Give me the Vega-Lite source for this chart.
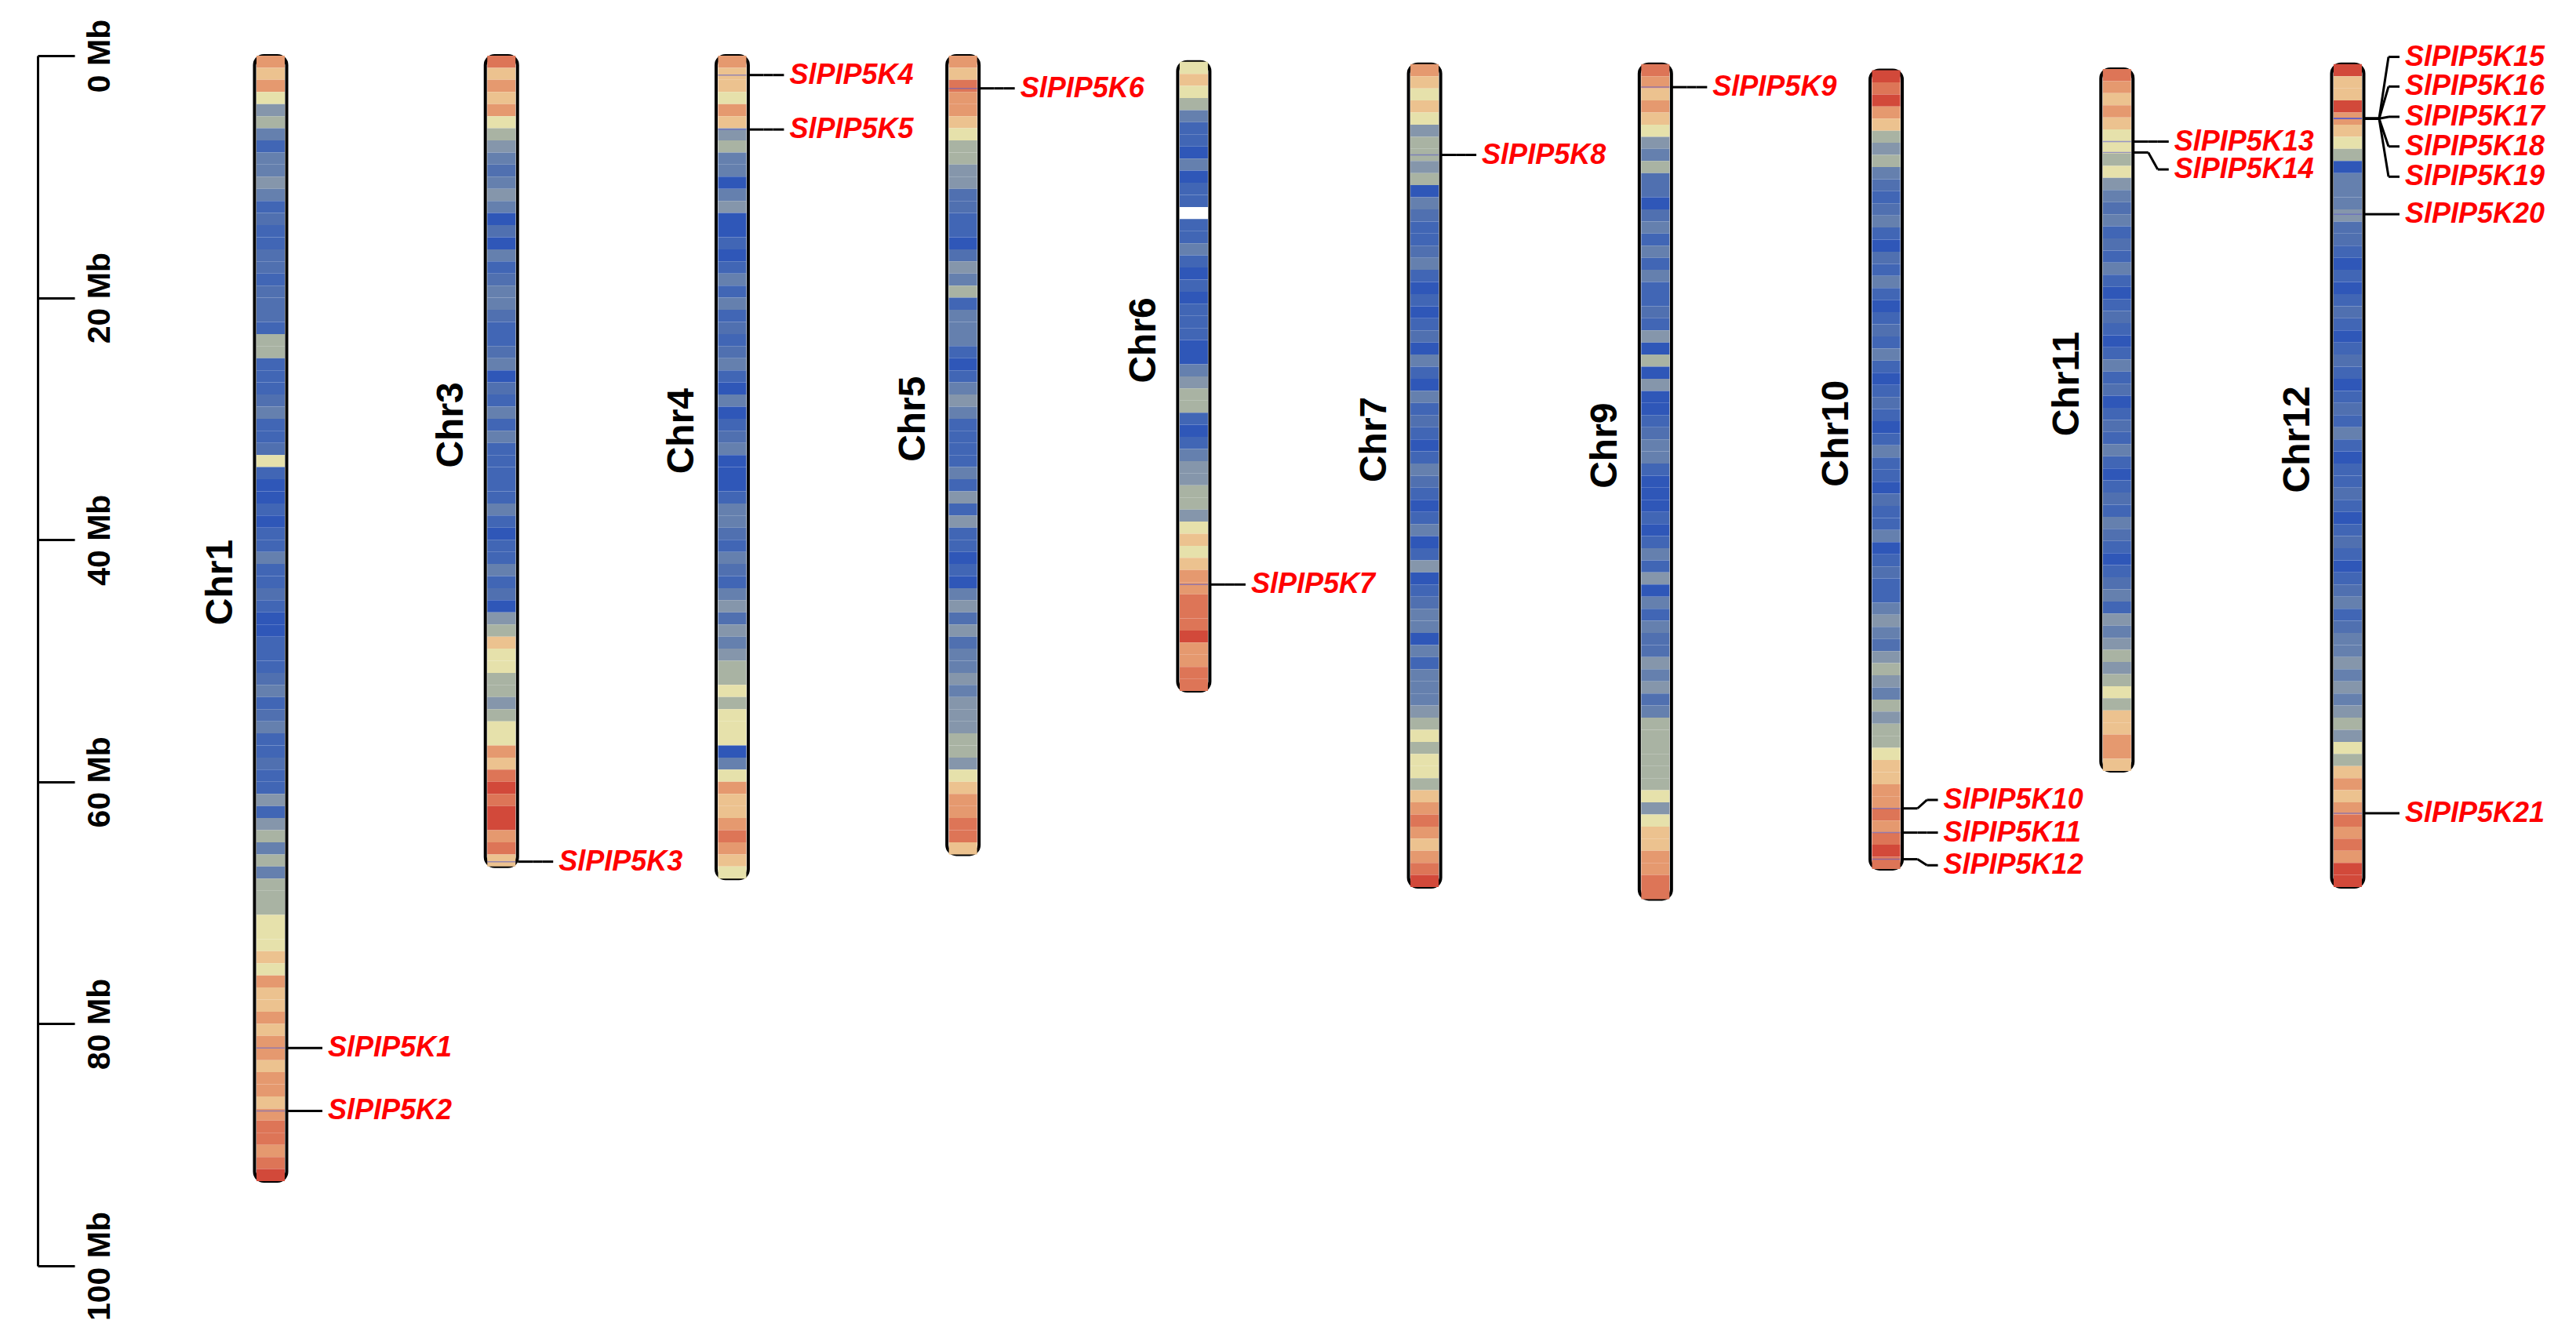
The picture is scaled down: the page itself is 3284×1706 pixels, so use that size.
{
"$schema":"https://vega.github.io/schema/vega-lite/v6.json",
"width":3226,"height":1543,
"autosize":{"type":"none"},
"padding":{"left":48,"top":71,"right":10,"bottom":92},
"background":"white",
"config":{"view":{"stroke":null},"font":"Liberation Sans"},
"datasets":{
"chroms":[
{"c":"Chr1","s":0,"e":93},{"c":"Chr3","s":0,"e":67},{"c":"Chr4","s":0,"e":68},{"c":"Chr5","s":0,"e":66},{"c":"Chr6","s":0.5,"e":52.5},
{"c":"Chr7","s":0.7,"e":68.7},{"c":"Chr9","s":0.7,"e":69.7},{"c":"Chr10","s":1.2,"e":67.2},{"c":"Chr11","s":1.1,"e":59.1},{"c":"Chr12","s":0.7,"e":68.7}
],
"genes":[
{"c":"Chr1","g":"SlPIP5K1","p":82.0,"l":82.0},
{"c":"Chr1","g":"SlPIP5K2","p":87.2,"l":87.2},
{"c":"Chr3","g":"SlPIP5K3","p":66.6,"l":66.6},
{"c":"Chr4","g":"SlPIP5K4","p":1.6,"l":1.6},
{"c":"Chr4","g":"SlPIP5K5","p":6.1,"l":6.1},
{"c":"Chr5","g":"SlPIP5K6","p":2.7,"l":2.7},
{"c":"Chr6","g":"SlPIP5K7","p":43.7,"l":43.7},
{"c":"Chr7","g":"SlPIP5K8","p":8.2,"l":8.2},
{"c":"Chr9","g":"SlPIP5K9","p":2.6,"l":2.6},
{"c":"Chr10","g":"SlPIP5K10","p":62.2,"l":61.5},
{"c":"Chr10","g":"SlPIP5K11","p":64.2,"l":64.2},
{"c":"Chr10","g":"SlPIP5K12","p":66.4,"l":66.9},
{"c":"Chr11","g":"SlPIP5K13","p":7.1,"l":7.1},
{"c":"Chr11","g":"SlPIP5K14","p":8.0,"l":9.4},
{"c":"Chr12","g":"SlPIP5K15","p":5.2,"l":0.1},
{"c":"Chr12","g":"SlPIP5K16","p":5.2,"l":2.55},
{"c":"Chr12","g":"SlPIP5K17","p":5.2,"l":5.05},
{"c":"Chr12","g":"SlPIP5K18","p":5.2,"l":7.5},
{"c":"Chr12","g":"SlPIP5K19","p":5.2,"l":10.0},
{"c":"Chr12","g":"SlPIP5K20","p":13.1,"l":13.1},
{"c":"Chr12","g":"SlPIP5K21","p":62.6,"l":62.6}
],
"bands":[
{"c":"Chr1","s":0,"e":1,"d":9},{"c":"Chr1","s":1,"e":2,"d":8},{"c":"Chr1","s":2,"e":3,"d":9},{"c":"Chr1","s":3,"e":4,"d":7},{"c":"Chr1","s":4,"e":5,"d":5},{"c":"Chr1","s":5,"e":6,"d":6},{"c":"Chr1","s":6,"e":7,"d":4},{"c":"Chr1","s":7,"e":8,"d":2},{"c":"Chr1","s":8,"e":9,"d":4},{"c":"Chr1","s":9,"e":10,"d":4},
{"c":"Chr1","s":10,"e":11,"d":5},{"c":"Chr1","s":11,"e":12,"d":4},{"c":"Chr1","s":12,"e":13,"d":2},{"c":"Chr1","s":13,"e":14,"d":3},{"c":"Chr1","s":14,"e":15,"d":2},{"c":"Chr1","s":15,"e":16,"d":2},{"c":"Chr1","s":16,"e":17,"d":3},{"c":"Chr1","s":17,"e":18,"d":3},{"c":"Chr1","s":18,"e":19,"d":2},{"c":"Chr1","s":19,"e":20,"d":3},
{"c":"Chr1","s":20,"e":21,"d":3},{"c":"Chr1","s":21,"e":22,"d":3},{"c":"Chr1","s":22,"e":23,"d":2},{"c":"Chr1","s":23,"e":24,"d":6},{"c":"Chr1","s":24,"e":25,"d":6},{"c":"Chr1","s":25,"e":26,"d":2},{"c":"Chr1","s":26,"e":27,"d":2},{"c":"Chr1","s":27,"e":28,"d":2},{"c":"Chr1","s":28,"e":29,"d":3},{"c":"Chr1","s":29,"e":30,"d":4},
{"c":"Chr1","s":30,"e":31,"d":2},{"c":"Chr1","s":31,"e":32,"d":2},{"c":"Chr1","s":32,"e":33,"d":3},{"c":"Chr1","s":33,"e":34,"d":7},{"c":"Chr1","s":34,"e":35,"d":2},{"c":"Chr1","s":35,"e":36,"d":1},{"c":"Chr1","s":36,"e":37,"d":1},{"c":"Chr1","s":37,"e":38,"d":2},{"c":"Chr1","s":38,"e":39,"d":1},{"c":"Chr1","s":39,"e":40,"d":2},
{"c":"Chr1","s":40,"e":41,"d":2},{"c":"Chr1","s":41,"e":42,"d":4},{"c":"Chr1","s":42,"e":43,"d":2},{"c":"Chr1","s":43,"e":44,"d":2},{"c":"Chr1","s":44,"e":45,"d":3},{"c":"Chr1","s":45,"e":46,"d":2},{"c":"Chr1","s":46,"e":47,"d":1},{"c":"Chr1","s":47,"e":48,"d":1},{"c":"Chr1","s":48,"e":49,"d":2},{"c":"Chr1","s":49,"e":50,"d":2},
{"c":"Chr1","s":50,"e":51,"d":2},{"c":"Chr1","s":51,"e":52,"d":3},{"c":"Chr1","s":52,"e":53,"d":4},{"c":"Chr1","s":53,"e":54,"d":2},{"c":"Chr1","s":54,"e":55,"d":3},{"c":"Chr1","s":55,"e":56,"d":4},{"c":"Chr1","s":56,"e":57,"d":2},{"c":"Chr1","s":57,"e":58,"d":2},{"c":"Chr1","s":58,"e":59,"d":3},{"c":"Chr1","s":59,"e":60,"d":2},
{"c":"Chr1","s":60,"e":61,"d":2},{"c":"Chr1","s":61,"e":62,"d":5},{"c":"Chr1","s":62,"e":63,"d":2},{"c":"Chr1","s":63,"e":64,"d":5},{"c":"Chr1","s":64,"e":65,"d":6},{"c":"Chr1","s":65,"e":66,"d":4},{"c":"Chr1","s":66,"e":67,"d":6},{"c":"Chr1","s":67,"e":68,"d":4},{"c":"Chr1","s":68,"e":69,"d":6},{"c":"Chr1","s":69,"e":70,"d":6},
{"c":"Chr1","s":70,"e":71,"d":6},{"c":"Chr1","s":71,"e":72,"d":7},{"c":"Chr1","s":72,"e":73,"d":7},{"c":"Chr1","s":73,"e":74,"d":7},{"c":"Chr1","s":74,"e":75,"d":8},{"c":"Chr1","s":75,"e":76,"d":7},{"c":"Chr1","s":76,"e":77,"d":9},{"c":"Chr1","s":77,"e":78,"d":8},{"c":"Chr1","s":78,"e":79,"d":8},{"c":"Chr1","s":79,"e":80,"d":9},
{"c":"Chr1","s":80,"e":81,"d":8},{"c":"Chr1","s":81,"e":82,"d":9},{"c":"Chr1","s":82,"e":83,"d":9},{"c":"Chr1","s":83,"e":84,"d":8},{"c":"Chr1","s":84,"e":85,"d":9},{"c":"Chr1","s":85,"e":86,"d":9},{"c":"Chr1","s":86,"e":87,"d":8},{"c":"Chr1","s":87,"e":88,"d":9},{"c":"Chr1","s":88,"e":89,"d":10},{"c":"Chr1","s":89,"e":90,"d":10},
{"c":"Chr1","s":90,"e":91,"d":9},{"c":"Chr1","s":91,"e":92,"d":10},{"c":"Chr1","s":92,"e":93,"d":11},

{"c":"Chr3","s":0,"e":1,"d":10},{"c":"Chr3","s":1,"e":2,"d":8},{"c":"Chr3","s":2,"e":3,"d":9},{"c":"Chr3","s":3,"e":4,"d":8},{"c":"Chr3","s":4,"e":5,"d":9},{"c":"Chr3","s":5,"e":6,"d":7},{"c":"Chr3","s":6,"e":7,"d":6},{"c":"Chr3","s":7,"e":8,"d":5},{"c":"Chr3","s":8,"e":9,"d":4},{"c":"Chr3","s":9,"e":10,"d":3},
{"c":"Chr3","s":10,"e":11,"d":4},{"c":"Chr3","s":11,"e":12,"d":5},{"c":"Chr3","s":12,"e":13,"d":4},{"c":"Chr3","s":13,"e":14,"d":1},{"c":"Chr3","s":14,"e":15,"d":3},{"c":"Chr3","s":15,"e":16,"d":1},{"c":"Chr3","s":16,"e":17,"d":4},{"c":"Chr3","s":17,"e":18,"d":2},{"c":"Chr3","s":18,"e":19,"d":3},{"c":"Chr3","s":19,"e":20,"d":4},
{"c":"Chr3","s":20,"e":21,"d":4},{"c":"Chr3","s":21,"e":22,"d":3},{"c":"Chr3","s":22,"e":23,"d":2},{"c":"Chr3","s":23,"e":24,"d":2},{"c":"Chr3","s":24,"e":25,"d":3},{"c":"Chr3","s":25,"e":26,"d":4},{"c":"Chr3","s":26,"e":27,"d":1},{"c":"Chr3","s":27,"e":28,"d":3},{"c":"Chr3","s":28,"e":29,"d":2},{"c":"Chr3","s":29,"e":30,"d":4},
{"c":"Chr3","s":30,"e":31,"d":2},{"c":"Chr3","s":31,"e":32,"d":4},{"c":"Chr3","s":32,"e":33,"d":2},{"c":"Chr3","s":33,"e":34,"d":2},{"c":"Chr3","s":34,"e":35,"d":2},{"c":"Chr3","s":35,"e":36,"d":2},{"c":"Chr3","s":36,"e":37,"d":2},{"c":"Chr3","s":37,"e":38,"d":4},{"c":"Chr3","s":38,"e":39,"d":2},{"c":"Chr3","s":39,"e":40,"d":1},
{"c":"Chr3","s":40,"e":41,"d":2},{"c":"Chr3","s":41,"e":42,"d":2},{"c":"Chr3","s":42,"e":43,"d":4},{"c":"Chr3","s":43,"e":44,"d":2},{"c":"Chr3","s":44,"e":45,"d":3},{"c":"Chr3","s":45,"e":46,"d":1},{"c":"Chr3","s":46,"e":47,"d":5},{"c":"Chr3","s":47,"e":48,"d":6},{"c":"Chr3","s":48,"e":49,"d":8},{"c":"Chr3","s":49,"e":50,"d":7},
{"c":"Chr3","s":50,"e":51,"d":7},{"c":"Chr3","s":51,"e":52,"d":6},{"c":"Chr3","s":52,"e":53,"d":6},{"c":"Chr3","s":53,"e":54,"d":5},{"c":"Chr3","s":54,"e":55,"d":6},{"c":"Chr3","s":55,"e":56,"d":7},{"c":"Chr3","s":56,"e":57,"d":7},{"c":"Chr3","s":57,"e":58,"d":9},{"c":"Chr3","s":58,"e":59,"d":8},{"c":"Chr3","s":59,"e":60,"d":10},
{"c":"Chr3","s":60,"e":61,"d":11},{"c":"Chr3","s":61,"e":62,"d":10},{"c":"Chr3","s":62,"e":63,"d":11},{"c":"Chr3","s":63,"e":64,"d":11},{"c":"Chr3","s":64,"e":65,"d":9},{"c":"Chr3","s":65,"e":66,"d":10},{"c":"Chr3","s":66,"e":67,"d":8},

{"c":"Chr4","s":0,"e":1,"d":9},{"c":"Chr4","s":1,"e":2,"d":8},{"c":"Chr4","s":2,"e":3,"d":8},{"c":"Chr4","s":3,"e":4,"d":7},{"c":"Chr4","s":4,"e":5,"d":9},{"c":"Chr4","s":5,"e":6,"d":8},{"c":"Chr4","s":6,"e":7,"d":5},{"c":"Chr4","s":7,"e":8,"d":6},{"c":"Chr4","s":8,"e":9,"d":4},{"c":"Chr4","s":9,"e":10,"d":4},
{"c":"Chr4","s":10,"e":11,"d":1},{"c":"Chr4","s":11,"e":12,"d":4},{"c":"Chr4","s":12,"e":13,"d":5},{"c":"Chr4","s":13,"e":14,"d":1},{"c":"Chr4","s":14,"e":15,"d":1},{"c":"Chr4","s":15,"e":16,"d":2},{"c":"Chr4","s":16,"e":17,"d":1},{"c":"Chr4","s":17,"e":18,"d":2},{"c":"Chr4","s":18,"e":19,"d":4},{"c":"Chr4","s":19,"e":20,"d":2},
{"c":"Chr4","s":20,"e":21,"d":4},{"c":"Chr4","s":21,"e":22,"d":2},{"c":"Chr4","s":22,"e":23,"d":3},{"c":"Chr4","s":23,"e":24,"d":2},{"c":"Chr4","s":24,"e":25,"d":3},{"c":"Chr4","s":25,"e":26,"d":4},{"c":"Chr4","s":26,"e":27,"d":2},{"c":"Chr4","s":27,"e":28,"d":1},{"c":"Chr4","s":28,"e":29,"d":4},{"c":"Chr4","s":29,"e":30,"d":1},
{"c":"Chr4","s":30,"e":31,"d":2},{"c":"Chr4","s":31,"e":32,"d":3},{"c":"Chr4","s":32,"e":33,"d":4},{"c":"Chr4","s":33,"e":34,"d":1},{"c":"Chr4","s":34,"e":35,"d":1},{"c":"Chr4","s":35,"e":36,"d":1},{"c":"Chr4","s":36,"e":37,"d":2},{"c":"Chr4","s":37,"e":38,"d":4},{"c":"Chr4","s":38,"e":39,"d":4},{"c":"Chr4","s":39,"e":40,"d":3},
{"c":"Chr4","s":40,"e":41,"d":2},{"c":"Chr4","s":41,"e":42,"d":4},{"c":"Chr4","s":42,"e":43,"d":3},{"c":"Chr4","s":43,"e":44,"d":2},{"c":"Chr4","s":44,"e":45,"d":4},{"c":"Chr4","s":45,"e":46,"d":5},{"c":"Chr4","s":46,"e":47,"d":3},{"c":"Chr4","s":47,"e":48,"d":5},{"c":"Chr4","s":48,"e":49,"d":4},{"c":"Chr4","s":49,"e":50,"d":5},
{"c":"Chr4","s":50,"e":51,"d":6},{"c":"Chr4","s":51,"e":52,"d":6},{"c":"Chr4","s":52,"e":53,"d":7},{"c":"Chr4","s":53,"e":54,"d":6},{"c":"Chr4","s":54,"e":55,"d":7},{"c":"Chr4","s":55,"e":56,"d":7},{"c":"Chr4","s":56,"e":57,"d":7},{"c":"Chr4","s":57,"e":58,"d":1},{"c":"Chr4","s":58,"e":59,"d":4},{"c":"Chr4","s":59,"e":60,"d":7},
{"c":"Chr4","s":60,"e":61,"d":9},{"c":"Chr4","s":61,"e":62,"d":8},{"c":"Chr4","s":62,"e":63,"d":8},{"c":"Chr4","s":63,"e":64,"d":9},{"c":"Chr4","s":64,"e":65,"d":10},{"c":"Chr4","s":65,"e":66,"d":9},{"c":"Chr4","s":66,"e":67,"d":8},{"c":"Chr4","s":67,"e":68,"d":7},

{"c":"Chr5","s":0,"e":1,"d":9},{"c":"Chr5","s":1,"e":2,"d":8},{"c":"Chr5","s":2,"e":3,"d":10},{"c":"Chr5","s":3,"e":4,"d":9},{"c":"Chr5","s":4,"e":5,"d":9},{"c":"Chr5","s":5,"e":6,"d":8},{"c":"Chr5","s":6,"e":7,"d":7},{"c":"Chr5","s":7,"e":8,"d":6},{"c":"Chr5","s":8,"e":9,"d":6},{"c":"Chr5","s":9,"e":10,"d":5},
{"c":"Chr5","s":10,"e":11,"d":5},{"c":"Chr5","s":11,"e":12,"d":3},{"c":"Chr5","s":12,"e":13,"d":3},{"c":"Chr5","s":13,"e":14,"d":2},{"c":"Chr5","s":14,"e":15,"d":2},{"c":"Chr5","s":15,"e":16,"d":1},{"c":"Chr5","s":16,"e":17,"d":3},{"c":"Chr5","s":17,"e":18,"d":5},{"c":"Chr5","s":18,"e":19,"d":4},{"c":"Chr5","s":19,"e":20,"d":6},
{"c":"Chr5","s":20,"e":21,"d":2},{"c":"Chr5","s":21,"e":22,"d":4},{"c":"Chr5","s":22,"e":23,"d":4},{"c":"Chr5","s":23,"e":24,"d":4},{"c":"Chr5","s":24,"e":25,"d":2},{"c":"Chr5","s":25,"e":26,"d":1},{"c":"Chr5","s":26,"e":27,"d":2},{"c":"Chr5","s":27,"e":28,"d":4},{"c":"Chr5","s":28,"e":29,"d":5},{"c":"Chr5","s":29,"e":30,"d":4},
{"c":"Chr5","s":30,"e":31,"d":2},{"c":"Chr5","s":31,"e":32,"d":2},{"c":"Chr5","s":32,"e":33,"d":2},{"c":"Chr5","s":33,"e":34,"d":2},{"c":"Chr5","s":34,"e":35,"d":4},{"c":"Chr5","s":35,"e":36,"d":2},{"c":"Chr5","s":36,"e":37,"d":5},{"c":"Chr5","s":37,"e":38,"d":2},{"c":"Chr5","s":38,"e":39,"d":5},{"c":"Chr5","s":39,"e":40,"d":2},
{"c":"Chr5","s":40,"e":41,"d":2},{"c":"Chr5","s":41,"e":42,"d":1},{"c":"Chr5","s":42,"e":43,"d":2},{"c":"Chr5","s":43,"e":44,"d":1},{"c":"Chr5","s":44,"e":45,"d":4},{"c":"Chr5","s":45,"e":46,"d":5},{"c":"Chr5","s":46,"e":47,"d":3},{"c":"Chr5","s":47,"e":48,"d":5},{"c":"Chr5","s":48,"e":49,"d":3},{"c":"Chr5","s":49,"e":50,"d":4},
{"c":"Chr5","s":50,"e":51,"d":4},{"c":"Chr5","s":51,"e":52,"d":5},{"c":"Chr5","s":52,"e":53,"d":4},{"c":"Chr5","s":53,"e":54,"d":5},{"c":"Chr5","s":54,"e":55,"d":5},{"c":"Chr5","s":55,"e":56,"d":5},{"c":"Chr5","s":56,"e":57,"d":6},{"c":"Chr5","s":57,"e":58,"d":6},{"c":"Chr5","s":58,"e":59,"d":5},{"c":"Chr5","s":59,"e":60,"d":7},
{"c":"Chr5","s":60,"e":61,"d":8},{"c":"Chr5","s":61,"e":62,"d":9},{"c":"Chr5","s":62,"e":63,"d":9},{"c":"Chr5","s":63,"e":64,"d":10},{"c":"Chr5","s":64,"e":65,"d":10},{"c":"Chr5","s":65,"e":66,"d":8},

{"c":"Chr6","s":0.5,"e":1.5,"d":7},{"c":"Chr6","s":1.5,"e":2.5,"d":8},{"c":"Chr6","s":2.5,"e":3.5,"d":7},{"c":"Chr6","s":3.5,"e":4.5,"d":6},{"c":"Chr6","s":4.5,"e":5.5,"d":4},{"c":"Chr6","s":5.5,"e":6.5,"d":2},{"c":"Chr6","s":6.5,"e":7.5,"d":2},{"c":"Chr6","s":7.5,"e":8.5,"d":1},{"c":"Chr6","s":8.5,"e":9.5,"d":4},{"c":"Chr6","s":9.5,"e":10.5,"d":1},
{"c":"Chr6","s":10.5,"e":11.5,"d":2},{"c":"Chr6","s":11.5,"e":12.5,"d":2},{"c":"Chr6","s":13.5,"e":14.5,"d":2},{"c":"Chr6","s":14.5,"e":15.5,"d":2},{"c":"Chr6","s":15.5,"e":16.5,"d":4},{"c":"Chr6","s":16.5,"e":17.5,"d":2},{"c":"Chr6","s":17.5,"e":18.5,"d":1},{"c":"Chr6","s":18.5,"e":19.5,"d":2},{"c":"Chr6","s":19.5,"e":20.5,"d":1},
{"c":"Chr6","s":20.5,"e":21.5,"d":2},{"c":"Chr6","s":21.5,"e":22.5,"d":2},{"c":"Chr6","s":22.5,"e":23.5,"d":2},{"c":"Chr6","s":23.5,"e":24.5,"d":1},{"c":"Chr6","s":24.5,"e":25.5,"d":1},{"c":"Chr6","s":25.5,"e":26.5,"d":4},{"c":"Chr6","s":26.5,"e":27.5,"d":5},{"c":"Chr6","s":27.5,"e":28.5,"d":6},{"c":"Chr6","s":28.5,"e":29.5,"d":6},{"c":"Chr6","s":29.5,"e":30.5,"d":2},
{"c":"Chr6","s":30.5,"e":31.5,"d":1},{"c":"Chr6","s":31.5,"e":32.5,"d":2},{"c":"Chr6","s":32.5,"e":33.5,"d":4},{"c":"Chr6","s":33.5,"e":34.5,"d":5},{"c":"Chr6","s":34.5,"e":35.5,"d":5},{"c":"Chr6","s":35.5,"e":36.5,"d":6},{"c":"Chr6","s":36.5,"e":37.5,"d":6},{"c":"Chr6","s":37.5,"e":38.5,"d":5},{"c":"Chr6","s":38.5,"e":39.5,"d":7},{"c":"Chr6","s":39.5,"e":40.5,"d":8},
{"c":"Chr6","s":40.5,"e":41.5,"d":7},{"c":"Chr6","s":41.5,"e":42.5,"d":8},{"c":"Chr6","s":42.5,"e":43.5,"d":9},{"c":"Chr6","s":43.5,"e":44.5,"d":9},{"c":"Chr6","s":44.5,"e":45.5,"d":10},{"c":"Chr6","s":45.5,"e":46.5,"d":10},{"c":"Chr6","s":46.5,"e":47.5,"d":10},{"c":"Chr6","s":47.5,"e":48.5,"d":11},{"c":"Chr6","s":48.5,"e":49.5,"d":9},{"c":"Chr6","s":49.5,"e":50.5,"d":9},
{"c":"Chr6","s":50.5,"e":51.5,"d":10},{"c":"Chr6","s":51.5,"e":52.5,"d":10},

{"c":"Chr7","s":0.7,"e":1.7,"d":9},{"c":"Chr7","s":1.7,"e":2.7,"d":8},{"c":"Chr7","s":2.7,"e":3.7,"d":7},{"c":"Chr7","s":3.7,"e":4.7,"d":8},{"c":"Chr7","s":4.7,"e":5.7,"d":7},{"c":"Chr7","s":5.7,"e":6.7,"d":5},{"c":"Chr7","s":6.7,"e":7.7,"d":6},{"c":"Chr7","s":7.7,"e":8.7,"d":6},{"c":"Chr7","s":8.7,"e":9.7,"d":5},{"c":"Chr7","s":9.7,"e":10.7,"d":6},
{"c":"Chr7","s":10.7,"e":11.7,"d":1},{"c":"Chr7","s":11.7,"e":12.7,"d":4},{"c":"Chr7","s":12.7,"e":13.7,"d":3},{"c":"Chr7","s":13.7,"e":14.7,"d":2},{"c":"Chr7","s":14.7,"e":15.7,"d":2},{"c":"Chr7","s":15.7,"e":16.7,"d":3},{"c":"Chr7","s":16.7,"e":17.7,"d":4},{"c":"Chr7","s":17.7,"e":18.7,"d":2},{"c":"Chr7","s":18.7,"e":19.7,"d":1},{"c":"Chr7","s":19.7,"e":20.7,"d":2},
{"c":"Chr7","s":20.7,"e":21.7,"d":1},{"c":"Chr7","s":21.7,"e":22.7,"d":2},{"c":"Chr7","s":22.7,"e":23.7,"d":3},{"c":"Chr7","s":23.7,"e":24.7,"d":1},{"c":"Chr7","s":24.7,"e":25.7,"d":4},{"c":"Chr7","s":25.7,"e":26.7,"d":2},{"c":"Chr7","s":26.7,"e":27.7,"d":1},{"c":"Chr7","s":27.7,"e":28.7,"d":4},{"c":"Chr7","s":28.7,"e":29.7,"d":2},{"c":"Chr7","s":29.7,"e":30.7,"d":3},
{"c":"Chr7","s":30.7,"e":31.7,"d":2},{"c":"Chr7","s":31.7,"e":32.7,"d":1},{"c":"Chr7","s":32.7,"e":33.7,"d":2},{"c":"Chr7","s":33.7,"e":34.7,"d":4},{"c":"Chr7","s":34.7,"e":35.7,"d":3},{"c":"Chr7","s":35.7,"e":36.7,"d":2},{"c":"Chr7","s":36.7,"e":37.7,"d":1},{"c":"Chr7","s":37.7,"e":38.7,"d":2},{"c":"Chr7","s":38.7,"e":39.7,"d":4},{"c":"Chr7","s":39.7,"e":40.7,"d":1},
{"c":"Chr7","s":40.7,"e":41.7,"d":2},{"c":"Chr7","s":41.7,"e":42.7,"d":5},{"c":"Chr7","s":42.7,"e":43.7,"d":1},{"c":"Chr7","s":43.7,"e":44.7,"d":2},{"c":"Chr7","s":44.7,"e":45.7,"d":3},{"c":"Chr7","s":45.7,"e":46.7,"d":4},{"c":"Chr7","s":46.7,"e":47.7,"d":4},{"c":"Chr7","s":47.7,"e":48.7,"d":1},{"c":"Chr7","s":48.7,"e":49.7,"d":4},{"c":"Chr7","s":49.7,"e":50.7,"d":2},
{"c":"Chr7","s":50.7,"e":51.7,"d":4},{"c":"Chr7","s":51.7,"e":52.7,"d":4},{"c":"Chr7","s":52.7,"e":53.7,"d":4},{"c":"Chr7","s":53.7,"e":54.7,"d":5},{"c":"Chr7","s":54.7,"e":55.7,"d":6},{"c":"Chr7","s":55.7,"e":56.7,"d":7},{"c":"Chr7","s":56.7,"e":57.7,"d":6},{"c":"Chr7","s":57.7,"e":58.7,"d":7},{"c":"Chr7","s":58.7,"e":59.7,"d":7},{"c":"Chr7","s":59.7,"e":60.7,"d":6},
{"c":"Chr7","s":60.7,"e":61.7,"d":8},{"c":"Chr7","s":61.7,"e":62.7,"d":9},{"c":"Chr7","s":62.7,"e":63.7,"d":10},{"c":"Chr7","s":63.7,"e":64.7,"d":9},{"c":"Chr7","s":64.7,"e":65.7,"d":8},{"c":"Chr7","s":65.7,"e":66.7,"d":9},{"c":"Chr7","s":66.7,"e":67.7,"d":10},{"c":"Chr7","s":67.7,"e":68.7,"d":11},

{"c":"Chr9","s":0.7,"e":1.7,"d":10},{"c":"Chr9","s":1.7,"e":2.7,"d":9},{"c":"Chr9","s":2.7,"e":3.7,"d":8},{"c":"Chr9","s":3.7,"e":4.7,"d":9},{"c":"Chr9","s":4.7,"e":5.7,"d":8},{"c":"Chr9","s":5.7,"e":6.7,"d":7},{"c":"Chr9","s":6.7,"e":7.7,"d":5},{"c":"Chr9","s":7.7,"e":8.7,"d":4},{"c":"Chr9","s":8.7,"e":9.7,"d":6},{"c":"Chr9","s":9.7,"e":10.7,"d":3},
{"c":"Chr9","s":10.7,"e":11.7,"d":3},{"c":"Chr9","s":11.7,"e":12.7,"d":1},{"c":"Chr9","s":12.7,"e":13.7,"d":3},{"c":"Chr9","s":13.7,"e":14.7,"d":4},{"c":"Chr9","s":14.7,"e":15.7,"d":2},{"c":"Chr9","s":15.7,"e":16.7,"d":4},{"c":"Chr9","s":16.7,"e":17.7,"d":2},{"c":"Chr9","s":17.7,"e":18.7,"d":4},{"c":"Chr9","s":18.7,"e":19.7,"d":2},{"c":"Chr9","s":19.7,"e":20.7,"d":2},
{"c":"Chr9","s":20.7,"e":21.7,"d":3},{"c":"Chr9","s":21.7,"e":22.7,"d":2},{"c":"Chr9","s":22.7,"e":23.7,"d":5},{"c":"Chr9","s":23.7,"e":24.7,"d":1},{"c":"Chr9","s":24.7,"e":25.7,"d":6},{"c":"Chr9","s":25.7,"e":26.7,"d":1},{"c":"Chr9","s":26.7,"e":27.7,"d":5},{"c":"Chr9","s":27.7,"e":28.7,"d":1},{"c":"Chr9","s":28.7,"e":29.7,"d":1},{"c":"Chr9","s":29.7,"e":30.7,"d":2},
{"c":"Chr9","s":30.7,"e":31.7,"d":3},{"c":"Chr9","s":31.7,"e":32.7,"d":4},{"c":"Chr9","s":32.7,"e":33.7,"d":4},{"c":"Chr9","s":33.7,"e":34.7,"d":2},{"c":"Chr9","s":34.7,"e":35.7,"d":1},{"c":"Chr9","s":35.7,"e":36.7,"d":1},{"c":"Chr9","s":36.7,"e":37.7,"d":1},{"c":"Chr9","s":37.7,"e":38.7,"d":2},{"c":"Chr9","s":38.7,"e":39.7,"d":1},{"c":"Chr9","s":39.7,"e":40.7,"d":2},
{"c":"Chr9","s":40.7,"e":41.7,"d":4},{"c":"Chr9","s":41.7,"e":42.7,"d":2},{"c":"Chr9","s":42.7,"e":43.7,"d":5},{"c":"Chr9","s":43.7,"e":44.7,"d":1},{"c":"Chr9","s":44.7,"e":45.7,"d":4},{"c":"Chr9","s":45.7,"e":46.7,"d":2},{"c":"Chr9","s":46.7,"e":47.7,"d":4},{"c":"Chr9","s":47.7,"e":48.7,"d":3},{"c":"Chr9","s":48.7,"e":49.7,"d":3},{"c":"Chr9","s":49.7,"e":50.7,"d":5},
{"c":"Chr9","s":50.7,"e":51.7,"d":4},{"c":"Chr9","s":51.7,"e":52.7,"d":5},{"c":"Chr9","s":52.7,"e":53.7,"d":3},{"c":"Chr9","s":53.7,"e":54.7,"d":4},{"c":"Chr9","s":54.7,"e":55.7,"d":6},{"c":"Chr9","s":55.7,"e":56.7,"d":6},{"c":"Chr9","s":56.7,"e":57.7,"d":6},{"c":"Chr9","s":57.7,"e":58.7,"d":6},{"c":"Chr9","s":58.7,"e":59.7,"d":6},{"c":"Chr9","s":59.7,"e":60.7,"d":6},
{"c":"Chr9","s":60.7,"e":61.7,"d":7},{"c":"Chr9","s":61.7,"e":62.7,"d":5},{"c":"Chr9","s":62.7,"e":63.7,"d":7},{"c":"Chr9","s":63.7,"e":64.7,"d":8},{"c":"Chr9","s":64.7,"e":65.7,"d":8},{"c":"Chr9","s":65.7,"e":66.7,"d":9},{"c":"Chr9","s":66.7,"e":67.7,"d":9},{"c":"Chr9","s":67.7,"e":68.7,"d":10},{"c":"Chr9","s":68.7,"e":69.7,"d":10},

{"c":"Chr10","s":1.2,"e":2.2,"d":11},{"c":"Chr10","s":2.2,"e":3.2,"d":10},{"c":"Chr10","s":3.2,"e":4.2,"d":11},{"c":"Chr10","s":4.2,"e":5.2,"d":9},{"c":"Chr10","s":5.2,"e":6.2,"d":8},{"c":"Chr10","s":6.2,"e":7.2,"d":6},{"c":"Chr10","s":7.2,"e":8.2,"d":5},{"c":"Chr10","s":8.2,"e":9.2,"d":6},{"c":"Chr10","s":9.2,"e":10.2,"d":4},{"c":"Chr10","s":10.2,"e":11.2,"d":3},
{"c":"Chr10","s":11.2,"e":12.2,"d":2},{"c":"Chr10","s":12.2,"e":13.2,"d":3},{"c":"Chr10","s":13.2,"e":14.2,"d":4},{"c":"Chr10","s":14.2,"e":15.2,"d":2},{"c":"Chr10","s":15.2,"e":16.2,"d":1},{"c":"Chr10","s":16.2,"e":17.2,"d":3},{"c":"Chr10","s":17.2,"e":18.2,"d":2},{"c":"Chr10","s":18.2,"e":19.2,"d":4},{"c":"Chr10","s":19.2,"e":20.2,"d":2},{"c":"Chr10","s":20.2,"e":21.2,"d":1},
{"c":"Chr10","s":21.2,"e":22.2,"d":2},{"c":"Chr10","s":22.2,"e":23.2,"d":3},{"c":"Chr10","s":23.2,"e":24.2,"d":2},{"c":"Chr10","s":24.2,"e":25.2,"d":4},{"c":"Chr10","s":25.2,"e":26.2,"d":2},{"c":"Chr10","s":26.2,"e":27.2,"d":1},{"c":"Chr10","s":27.2,"e":28.2,"d":2},{"c":"Chr10","s":28.2,"e":29.2,"d":3},{"c":"Chr10","s":29.2,"e":30.2,"d":2},{"c":"Chr10","s":30.2,"e":31.2,"d":1},
{"c":"Chr10","s":31.2,"e":32.2,"d":2},{"c":"Chr10","s":32.2,"e":33.2,"d":4},{"c":"Chr10","s":33.2,"e":34.2,"d":2},{"c":"Chr10","s":34.2,"e":35.2,"d":2},{"c":"Chr10","s":35.2,"e":36.2,"d":1},{"c":"Chr10","s":36.2,"e":37.2,"d":3},{"c":"Chr10","s":37.2,"e":38.2,"d":2},{"c":"Chr10","s":38.2,"e":39.2,"d":2},{"c":"Chr10","s":39.2,"e":40.2,"d":4},{"c":"Chr10","s":40.2,"e":41.2,"d":1},
{"c":"Chr10","s":41.2,"e":42.2,"d":2},{"c":"Chr10","s":42.2,"e":43.2,"d":3},{"c":"Chr10","s":43.2,"e":44.2,"d":2},{"c":"Chr10","s":44.2,"e":45.2,"d":2},{"c":"Chr10","s":45.2,"e":46.2,"d":4},{"c":"Chr10","s":46.2,"e":47.2,"d":5},{"c":"Chr10","s":47.2,"e":48.2,"d":4},{"c":"Chr10","s":48.2,"e":49.2,"d":3},{"c":"Chr10","s":49.2,"e":50.2,"d":5},{"c":"Chr10","s":50.2,"e":51.2,"d":6},
{"c":"Chr10","s":51.2,"e":52.2,"d":5},{"c":"Chr10","s":52.2,"e":53.2,"d":4},{"c":"Chr10","s":53.2,"e":54.2,"d":6},{"c":"Chr10","s":54.2,"e":55.2,"d":5},{"c":"Chr10","s":55.2,"e":56.2,"d":6},{"c":"Chr10","s":56.2,"e":57.2,"d":6},{"c":"Chr10","s":57.2,"e":58.2,"d":7},{"c":"Chr10","s":58.2,"e":59.2,"d":8},{"c":"Chr10","s":59.2,"e":60.2,"d":8},{"c":"Chr10","s":60.2,"e":61.2,"d":9},
{"c":"Chr10","s":61.2,"e":62.2,"d":9},{"c":"Chr10","s":62.2,"e":63.2,"d":10},{"c":"Chr10","s":63.2,"e":64.2,"d":9},{"c":"Chr10","s":64.2,"e":65.2,"d":10},{"c":"Chr10","s":65.2,"e":66.2,"d":11},{"c":"Chr10","s":66.2,"e":67.2,"d":10},

{"c":"Chr11","s":1.1,"e":2.1,"d":10},{"c":"Chr11","s":2.1,"e":3.1,"d":9},{"c":"Chr11","s":3.1,"e":4.1,"d":8},{"c":"Chr11","s":4.1,"e":5.1,"d":9},{"c":"Chr11","s":5.1,"e":6.1,"d":8},{"c":"Chr11","s":6.1,"e":7.1,"d":7},{"c":"Chr11","s":7.1,"e":8.1,"d":7},{"c":"Chr11","s":8.1,"e":9.1,"d":6},{"c":"Chr11","s":9.1,"e":10.1,"d":7},{"c":"Chr11","s":10.1,"e":11.1,"d":5},
{"c":"Chr11","s":11.1,"e":12.1,"d":4},{"c":"Chr11","s":12.1,"e":13.1,"d":3},{"c":"Chr11","s":13.1,"e":14.1,"d":4},{"c":"Chr11","s":14.1,"e":15.1,"d":2},{"c":"Chr11","s":15.1,"e":16.1,"d":3},{"c":"Chr11","s":16.1,"e":17.1,"d":2},{"c":"Chr11","s":17.1,"e":18.1,"d":4},{"c":"Chr11","s":18.1,"e":19.1,"d":2},{"c":"Chr11","s":19.1,"e":20.1,"d":1},{"c":"Chr11","s":20.1,"e":21.1,"d":2},
{"c":"Chr11","s":21.1,"e":22.1,"d":3},{"c":"Chr11","s":22.1,"e":23.1,"d":2},{"c":"Chr11","s":23.1,"e":24.1,"d":1},{"c":"Chr11","s":24.1,"e":25.1,"d":2},{"c":"Chr11","s":25.1,"e":26.1,"d":4},{"c":"Chr11","s":26.1,"e":27.1,"d":2},{"c":"Chr11","s":27.1,"e":28.1,"d":3},{"c":"Chr11","s":28.1,"e":29.1,"d":1},{"c":"Chr11","s":29.1,"e":30.1,"d":2},{"c":"Chr11","s":30.1,"e":31.1,"d":3},
{"c":"Chr11","s":31.1,"e":32.1,"d":2},{"c":"Chr11","s":32.1,"e":33.1,"d":4},{"c":"Chr11","s":33.1,"e":34.1,"d":2},{"c":"Chr11","s":34.1,"e":35.1,"d":1},{"c":"Chr11","s":35.1,"e":36.1,"d":2},{"c":"Chr11","s":36.1,"e":37.1,"d":3},{"c":"Chr11","s":37.1,"e":38.1,"d":2},{"c":"Chr11","s":38.1,"e":39.1,"d":4},{"c":"Chr11","s":39.1,"e":40.1,"d":3},{"c":"Chr11","s":40.1,"e":41.1,"d":2},
{"c":"Chr11","s":41.1,"e":42.1,"d":1},{"c":"Chr11","s":42.1,"e":43.1,"d":2},{"c":"Chr11","s":43.1,"e":44.1,"d":3},{"c":"Chr11","s":44.1,"e":45.1,"d":4},{"c":"Chr11","s":45.1,"e":46.1,"d":2},{"c":"Chr11","s":46.1,"e":47.1,"d":5},{"c":"Chr11","s":47.1,"e":48.1,"d":4},{"c":"Chr11","s":48.1,"e":49.1,"d":5},{"c":"Chr11","s":49.1,"e":50.1,"d":6},{"c":"Chr11","s":50.1,"e":51.1,"d":5},
{"c":"Chr11","s":51.1,"e":52.1,"d":6},{"c":"Chr11","s":52.1,"e":53.1,"d":7},{"c":"Chr11","s":53.1,"e":54.1,"d":6},{"c":"Chr11","s":54.1,"e":55.1,"d":8},{"c":"Chr11","s":55.1,"e":56.1,"d":8},{"c":"Chr11","s":56.1,"e":57.1,"d":9},{"c":"Chr11","s":57.1,"e":58.1,"d":9},{"c":"Chr11","s":58.1,"e":59.1,"d":8},

{"c":"Chr12","s":0.7,"e":1.7,"d":11},{"c":"Chr12","s":1.7,"e":2.7,"d":8},{"c":"Chr12","s":2.7,"e":3.7,"d":8},{"c":"Chr12","s":3.7,"e":4.7,"d":11},{"c":"Chr12","s":4.7,"e":5.7,"d":9},{"c":"Chr12","s":5.7,"e":6.7,"d":8},{"c":"Chr12","s":6.7,"e":7.7,"d":7},{"c":"Chr12","s":7.7,"e":8.7,"d":6},{"c":"Chr12","s":8.7,"e":9.7,"d":1},{"c":"Chr12","s":9.7,"e":10.7,"d":4},
{"c":"Chr12","s":10.7,"e":11.7,"d":4},{"c":"Chr12","s":11.7,"e":12.7,"d":4},{"c":"Chr12","s":12.7,"e":13.7,"d":5},{"c":"Chr12","s":13.7,"e":14.7,"d":3},{"c":"Chr12","s":14.7,"e":15.7,"d":3},{"c":"Chr12","s":15.7,"e":16.7,"d":2},{"c":"Chr12","s":16.7,"e":17.7,"d":1},{"c":"Chr12","s":17.7,"e":18.7,"d":2},{"c":"Chr12","s":18.7,"e":19.7,"d":1},{"c":"Chr12","s":19.7,"e":20.7,"d":2},
{"c":"Chr12","s":20.7,"e":21.7,"d":3},{"c":"Chr12","s":21.7,"e":22.7,"d":2},{"c":"Chr12","s":22.7,"e":23.7,"d":1},{"c":"Chr12","s":23.7,"e":24.7,"d":2},{"c":"Chr12","s":24.7,"e":25.7,"d":3},{"c":"Chr12","s":25.7,"e":26.7,"d":2},{"c":"Chr12","s":26.7,"e":27.7,"d":1},{"c":"Chr12","s":27.7,"e":28.7,"d":2},{"c":"Chr12","s":28.7,"e":29.7,"d":3},{"c":"Chr12","s":29.7,"e":30.7,"d":2},
{"c":"Chr12","s":30.7,"e":31.7,"d":4},{"c":"Chr12","s":31.7,"e":32.7,"d":2},{"c":"Chr12","s":32.7,"e":33.7,"d":1},{"c":"Chr12","s":33.7,"e":34.7,"d":2},{"c":"Chr12","s":34.7,"e":35.7,"d":2},{"c":"Chr12","s":35.7,"e":36.7,"d":3},{"c":"Chr12","s":36.7,"e":37.7,"d":2},{"c":"Chr12","s":37.7,"e":38.7,"d":1},{"c":"Chr12","s":38.7,"e":39.7,"d":2},{"c":"Chr12","s":39.7,"e":40.7,"d":3},
{"c":"Chr12","s":40.7,"e":41.7,"d":2},{"c":"Chr12","s":41.7,"e":42.7,"d":1},{"c":"Chr12","s":42.7,"e":43.7,"d":2},{"c":"Chr12","s":43.7,"e":44.7,"d":3},{"c":"Chr12","s":44.7,"e":45.7,"d":4},{"c":"Chr12","s":45.7,"e":46.7,"d":2},{"c":"Chr12","s":46.7,"e":47.7,"d":3},{"c":"Chr12","s":47.7,"e":48.7,"d":4},{"c":"Chr12","s":48.7,"e":49.7,"d":4},{"c":"Chr12","s":49.7,"e":50.7,"d":5},
{"c":"Chr12","s":50.7,"e":51.7,"d":4},{"c":"Chr12","s":51.7,"e":52.7,"d":5},{"c":"Chr12","s":52.7,"e":53.7,"d":4},{"c":"Chr12","s":53.7,"e":54.7,"d":5},{"c":"Chr12","s":54.7,"e":55.7,"d":6},{"c":"Chr12","s":55.7,"e":56.7,"d":5},{"c":"Chr12","s":56.7,"e":57.7,"d":7},{"c":"Chr12","s":57.7,"e":58.7,"d":6},{"c":"Chr12","s":58.7,"e":59.7,"d":8},{"c":"Chr12","s":59.7,"e":60.7,"d":9},
{"c":"Chr12","s":60.7,"e":61.7,"d":8},{"c":"Chr12","s":61.7,"e":62.7,"d":9},{"c":"Chr12","s":62.7,"e":63.7,"d":10},{"c":"Chr12","s":63.7,"e":64.7,"d":9},{"c":"Chr12","s":64.7,"e":65.7,"d":10},{"c":"Chr12","s":65.7,"e":66.7,"d":9},{"c":"Chr12","s":66.7,"e":67.7,"d":11},{"c":"Chr12","s":67.7,"e":68.7,"d":11}
]
},
"layer":[
{"data":{"name":"chroms"},
 "mark":{"type":"bar","width":41,"cornerRadius":12,"fill":"white","stroke":"black","strokeWidth":4},
 "encoding":{
  "x":{"field":"c","type":"nominal","scale":{"type":"point","domain":["Chr1","Chr3","Chr4","Chr5","Chr6","Chr7","Chr9","Chr10","Chr11","Chr12"],"range":[297,2945],"padding":0},"axis":null},
  "y":{"field":"s","type":"quantitative","scale":{"domain":[0,100],"reverse":true,"nice":false,"zero":false},
   "axis":{"values":[0,20,40,60,80,100],"labelExpr":"datum.value + ' Mb'","title":null,"grid":false,
    "domainColor":"black","domainWidth":3,"tickColor":"black","tickWidth":3,"tickSize":-47,"labelPadding":-32,
    "labelAngle":270,"labelAlign":"center","labelBaseline":"middle","labelFont":"Liberation Sans","labelFontWeight":"bold","labelFontSize":41,"labelColor":"black","labelOverlap":false,"labelFlush":false}},
  "y2":{"field":"e"}}},
{"data":{"name":"bands"},
 "mark":{"type":"bar","width":36},
 "encoding":{
  "x":{"field":"c","type":"nominal"},
  "y":{"field":"s","type":"quantitative"},
  "y2":{"field":"e"},
  "color":{"field":"d","type":"ordinal","legend":null,"scale":{"domain":[1,2,3,4,5,6,7,8,9,10,11],"range":["#2f57b8","#4166b5","#5070b0","#6580ae","#8596ab","#a9b3a3","#e6e1ab","#ecc28f","#e5996f","#dd7557","#d2493a"]}}}},
{"data":{"name":"genes"},
 "mark":{"type":"rule","xOffset":-18,"x2Offset":18,"stroke":"#5f5fc8","strokeWidth":1.5,"opacity":0.6},
 "encoding":{"x":{"field":"c","type":"nominal"},"x2":{"field":"c"},"y":{"field":"p","type":"quantitative"}}},
{"data":{"name":"genes"},
 "mark":{"type":"rule","xOffset":21,"x2Offset":40,"stroke":"black","strokeWidth":3},
 "encoding":{"x":{"field":"c","type":"nominal"},"x2":{"field":"c"},"y":{"field":"p","type":"quantitative"}}},
{"data":{"name":"genes"},
 "mark":{"type":"rule","xOffset":40,"x2Offset":52,"stroke":"black","strokeWidth":3},
 "encoding":{"x":{"field":"c","type":"nominal"},"x2":{"field":"c"},"y":{"field":"p","type":"quantitative"},"y2":{"field":"l"}}},
{"data":{"name":"genes"},
 "mark":{"type":"rule","xOffset":52,"x2Offset":66,"stroke":"black","strokeWidth":3},
 "encoding":{"x":{"field":"c","type":"nominal"},"x2":{"field":"c"},"y":{"field":"l","type":"quantitative"}}},
{"data":{"name":"genes"},
 "mark":{"type":"text","dx":73,"align":"left","baseline":"middle","font":"Liberation Sans","fontWeight":"bold","fontStyle":"italic","fontSize":36,"color":"#ff0000"},
 "encoding":{"x":{"field":"c","type":"nominal"},"y":{"field":"l","type":"quantitative"},"text":{"field":"g"}}},
{"data":{"name":"chroms"},
 "transform":[{"calculate":"(datum.s + datum.e) / 2","as":"mid"}],
 "mark":{"type":"text","angle":270,"dx":46,"dy":-63,"align":"center","baseline":"middle","font":"Liberation Sans","fontWeight":"bold","fontSize":48,"color":"black"},
 "encoding":{"x":{"field":"c","type":"nominal"},"y":{"field":"mid","type":"quantitative"},"text":{"field":"c"}}}
]
}
